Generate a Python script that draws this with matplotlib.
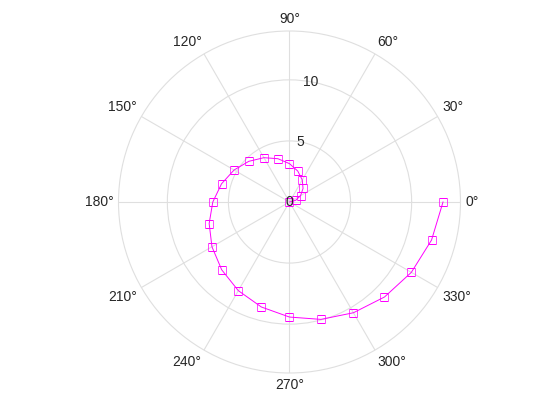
import numpy as np
import matplotlib
matplotlib.use("Agg")
import matplotlib.pyplot as plt

theta_deg = [0, 15, 30, 45, 60, 75, 90, 105, 120, 135, 150, 165, 180,
             195, 210, 225, 240, 255, 270, 285, 300, 315, 330, 345, 360]
r_vals = [0.00, 0.52, 1.05, 1.57, 2.09, 2.62, 3.14, 3.67, 4.19, 4.71, 5.24,
          5.76, 6.28, 6.81, 7.33, 7.85, 8.38, 8.90, 9.42, 9.95, 10.47, 11.00,
          11.52, 12.04, 12.57]
r_ticks = [0, 5, 10]
theta_ticks = [0, 30, 60, 90, 120, 150, 180, 210, 240, 270, 300, 330]
theta_labels = [f"{t}°" for t in theta_ticks]

plt.rcParams['font.family'] = ['Liberation Sans', 'DejaVu Sans']
fig = plt.figure(figsize=(5.6, 4.2), dpi=100)
ax = fig.add_axes([0.2116, 0.1119, 0.6107, 0.8143], projection='polar')

grid_c = '#dfdfdf'
txt_c = '#262626'
ax.set_axisbelow(True)
ax.plot(np.deg2rad(theta_deg), r_vals, color='#ff00ff', lw=0.7, zorder=5)
ax.plot(np.deg2rad(theta_deg), r_vals, linestyle='none',
        marker='s', markersize=6, markerfacecolor='none',
        markeredgecolor='#ff00ff', markeredgewidth=0.5, zorder=6)

rmax = 14
ax.set_rlim(0, rmax)
ax.set_rticks(r_ticks)
ax.set_yticklabels([])
for rt in r_ticks:
    ax.text(np.deg2rad(80), rt, str(rt), ha='center', va='center',
            fontsize=10, color=txt_c, zorder=7)

ax.set_thetagrids(theta_ticks, [''] * len(theta_ticks))
for t, lab in zip(theta_ticks, theta_labels):
    c, s = np.cos(np.deg2rad(t)), np.sin(np.deg2rad(t))
    ha = 'left' if c > 0.01 else ('right' if c < -0.01 else 'center')
    va = 'bottom' if s > 0.01 else ('top' if s < -0.01 else 'center')
    ax.text(np.deg2rad(t), rmax * 1.03, lab, ha=ha, va=va, fontsize=10,
            color=txt_c, clip_on=False)

ax.grid(True, color=grid_c, lw=0.8)
ax.spines['polar'].set_color(grid_c)
ax.spines['polar'].set_linewidth(0.8)
fig.savefig('out.png', dpi=100)
